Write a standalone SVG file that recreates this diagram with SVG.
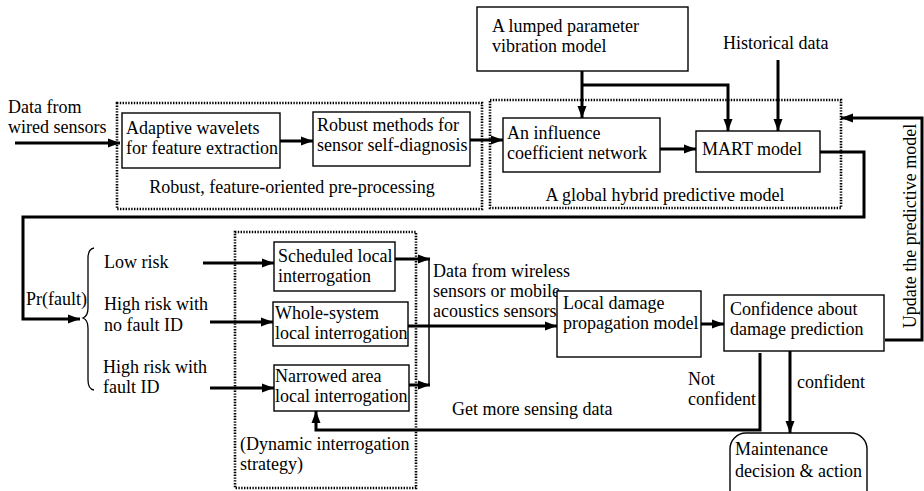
<svg xmlns="http://www.w3.org/2000/svg" width="924" height="491" viewBox="0 0 924 491" font-family="'Liberation Serif', 'Times New Roman', 'DejaVu Serif', serif" font-size="18">
<defs>
<marker id="ah" markerUnits="userSpaceOnUse" markerWidth="14" markerHeight="10" refX="12" refY="5" orient="auto">
<path d="M0,0.5 L12,5 L0,9.5 Z" fill="#000"/>
</marker>
</defs>
<style>
text{font-family:'Liberation Serif','Times New Roman','DejaVu Serif',serif;font-size:18px;fill:#000}
.box{fill:#fff;stroke:#000;stroke-width:1.4}
.grp{fill:none;stroke:#000;stroke-width:2.6;stroke-dasharray:1.4 1.4}
.c{fill:none;stroke:#000;stroke-width:3}
.t{fill:none;stroke:#000;stroke-width:1.5}
</style>
<rect width="924" height="491" fill="#fff"/>

<g id="groups">
<rect class="grp" x="117" y="103" width="365" height="106"/>
<rect class="grp" x="490" y="100" width="351" height="108"/>
<rect class="grp" x="235" y="232" width="181" height="256"/>
</g>

<g id="connectors">
<path class="c" d="M15,143 H120" marker-end="url(#ah)"/>
<path class="c" d="M280,141 H313" marker-end="url(#ah)"/>
<path class="c" d="M470,140 H503" marker-end="url(#ah)"/>
<path class="c" d="M582,71 V118" marker-end="url(#ah)"/>
<path class="c" d="M582,85 H728 V131" marker-end="url(#ah)"/>
<path class="c" d="M778,60 V131" marker-end="url(#ah)"/>
<path class="c" d="M660,149 H696" marker-end="url(#ah)"/>
<path class="c" d="M820,152 H864 V217 H23 V319 H80" marker-end="url(#ah)"/>
<path class="c" d="M203,263 H274" marker-end="url(#ah)"/>
<path class="c" d="M210,322 H273" marker-end="url(#ah)"/>
<path class="c" d="M210,388 H274" marker-end="url(#ah)"/>
<path class="c" d="M395,259 H430" marker-end="url(#ah)"/>
<path class="t" d="M429,259 V385"/>
<path class="c" d="M409,385 H430" marker-end="url(#ah)"/>
<path class="c" d="M408,326 H557" marker-end="url(#ah)"/>
<path class="c" d="M701,324 H724" marker-end="url(#ah)"/>
<path class="c" d="M790,351 V433" marker-end="url(#ah)"/>
<path class="c" d="M760,353 V430 H316 V411" marker-end="url(#ah)"/>
<path class="c" d="M885,340 H922 V118 H841" marker-end="url(#ah)"/>
</g>

<g id="brace">
<path d="M94,248 Q88,249 88,258 V308 Q88,316 83,318 Q88,320 88,328 V380 Q88,389 94,390" fill="none" stroke="#000" stroke-width="1.3"/>
</g>

<g id="labels">
<text x="8" y="113">Data from</text>
<text x="8" y="133">wired sensors</text>
<text x="292" y="193" text-anchor="middle">Robust, feature-oriented pre-processing</text>
<text x="723" y="49">Historical data</text>
<text x="665" y="201" text-anchor="middle">A global hybrid predictive model</text>
<text x="26" y="305">Pr(fault)</text>
<text x="104" y="268">Low risk</text>
<text x="104" y="310">High risk with</text>
<text x="104" y="331">no fault ID</text>
<text x="103" y="373">High risk with</text>
<text x="103" y="393">fault ID</text>
<text x="433" y="277">Data from wireless</text>
<text x="433" y="297">sensors or mobile</text>
<text x="433" y="317">acoustics sensors</text>
<text x="452" y="415">Get more sensing data</text>
<text x="240" y="450">(Dynamic interrogation</text>
<text x="240" y="470">strategy)</text>
<text x="688" y="385">Not</text>
<text x="688" y="405">confident</text>
<text x="797" y="388">confident</text>
<text transform="translate(916,226) rotate(-90)" text-anchor="middle">Update the predictive model</text>
</g>

<g id="n-adaptive">
<rect class="box" x="122" y="113" width="158" height="55"/>
<text x="126" y="134">Adaptive wavelets</text>
<text x="126" y="154">for feature extraction</text>
</g>
<g id="n-robust">
<rect class="box" x="313" y="112" width="157" height="54"/>
<text x="317" y="131">Robust methods for</text>
<text x="317" y="151">sensor self-diagnosis</text>
</g>
<g id="n-lumped">
<rect class="box" x="477" y="7" width="211" height="64"/>
<text x="492" y="32">A lumped parameter</text>
<text x="492" y="52">vibration model</text>
</g>
<g id="n-influence">
<rect class="box" x="503" y="118" width="157" height="54"/>
<text x="507" y="139">An influence</text>
<text x="507" y="159">coefficient network</text>
</g>
<g id="n-mart">
<rect class="box" x="696" y="131" width="124" height="41"/>
<text x="702" y="155">MART model</text>
</g>
<g id="n-scheduled">
<rect class="box" x="274" y="242" width="121" height="49"/>
<text x="278" y="262">Scheduled local</text>
<text x="278" y="282">interrogation</text>
</g>
<g id="n-whole">
<rect class="box" x="273" y="302" width="135" height="44"/>
<text x="275" y="319">Whole-system</text>
<text x="275" y="339">local interrogation</text>
</g>
<g id="n-narrowed">
<rect class="box" x="274" y="365" width="135" height="46"/>
<text x="275" y="382">Narrowed area</text>
<text x="275" y="402">local interrogation</text>
</g>
<g id="n-local">
<rect class="box" x="557" y="291" width="144" height="66"/>
<text x="563" y="309">Local damage</text>
<text x="563" y="329">propagation model</text>
</g>
<g id="n-confidence">
<rect class="box" x="724" y="295" width="160" height="56"/>
<text x="730" y="315">Confidence about</text>
<text x="730" y="335">damage prediction</text>
</g>
<g id="n-maintenance">
<rect class="box" x="730" y="433" width="137" height="75" rx="16" ry="16"/>
<text x="735" y="455">Maintenance</text>
<text x="735" y="477">decision &amp; action</text>
</g>
</svg>
